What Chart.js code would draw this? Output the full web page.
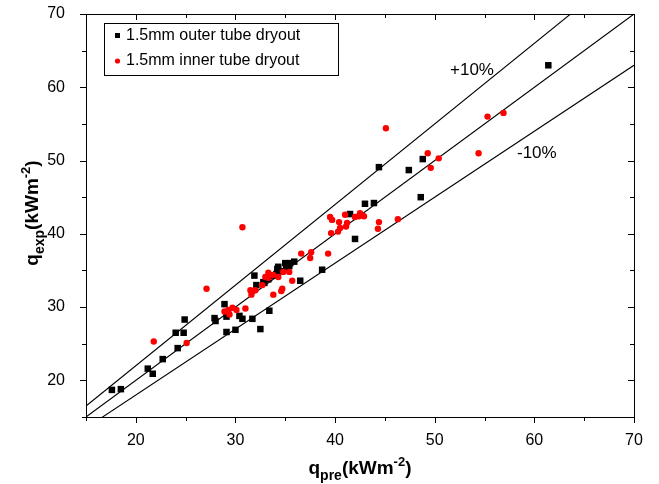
<!DOCTYPE html>
<html>
<head>
<meta charset="utf-8">
<script src="https://cdn.jsdelivr.net/npm/chart.js@4.4.0/dist/chart.umd.min.js"></script>
<style>
  html, body { margin: 0; padding: 0; background: #fff; }
  #wrap { width: 659px; height: 484px; }
</style>
</head>
<body>
<div id="wrap"><canvas id="chart" width="659" height="484"></canvas></div>
<script>
// 1.5mm outer tube dryout (black squares)
const outerX = [17.6, 18.5, 21.2, 21.7, 22.7, 24.2, 24.0, 24.8, 24.9, 27.9, 28.0, 28.9, 29.1, 29.1, 30.0,
                30.4, 30.7, 31.7, 32.5, 33.4, 31.9, 32.1, 32.9, 34.2, 34.3, 35.0, 35.5, 35.9, 32.8, 33.3,
                33.7, 34.1, 34.6, 35.1, 35.4, 36.5, 38.7, 42.0, 41.5, 43.0, 43.9, 44.4, 47.4, 48.8, 48.6, 61.4];
const outerY = [18.7, 18.8, 21.6, 20.9, 22.9, 24.4, 26.5, 26.5, 28.3, 28.5, 28.1, 30.4, 28.7, 26.6, 26.9,
                28.8, 28.4, 28.4, 27.0, 29.5, 34.3, 33.0, 33.3, 35.2, 35.5, 36.0, 36.0, 36.2, 33.4, 33.8,
                34.3, 34.5, 34.9, 35.3, 35.6, 33.6, 35.1, 39.3, 42.7, 44.1, 44.2, 49.1, 48.7, 50.2, 45.0, 63.0];

// 1.5mm inner tube dryout (red circles)
const innerX = [21.8, 25.1, 27.1, 30.7, 28.9, 29.3, 29.7, 30.1, 29.4, 31.0, 31.6, 32.0, 32.7, 33.8, 34.6,
                33.0, 33.3, 33.8, 34.3, 34.8, 35.4, 35.7, 31.5, 34.7, 33.3, 36.6, 37.6, 37.5, 39.3, 39.5,
                39.7, 39.6, 40.3, 40.4, 40.5, 41.0, 41.2, 41.1, 42.0, 42.5, 42.9, 42.4, 44.3, 44.4, 46.3,
                45.1, 49.3, 50.4, 49.6, 54.4, 55.3, 56.9];
const innerY = [25.3, 25.1, 32.5, 40.9, 29.4, 29.6, 29.9, 29.6, 29.0, 29.8, 31.7, 32.3, 33.0, 31.7, 32.2,
                34.1, 34.7, 34.4, 34.1, 34.8, 34.8, 33.6, 32.3, 32.5, 34.0, 37.3, 37.5, 36.7, 37.3, 42.3,
                41.9, 40.1, 40.3, 41.6, 40.8, 42.6, 41.5, 41.0, 42.3, 42.8, 42.4, 42.4, 40.7, 41.6, 42.0,
                54.4, 51.0, 50.3, 49.0, 51.0, 56.0, 56.5];

// reference lines q_exp = r * q_pre
const ratios = [1.1, 1.0, 0.9];
const lineX = [15, 70];

const axisMin = 15;
const axisMax = 70;
const tickLabels = [20, 30, 40, 50, 60, 70];

const seriesNames = ['1.5mm outer tube dryout', '1.5mm inner tube dryout'];
const bandLabels = ['+10%', '-10%'];

const FONT = '"Liberation Sans", Arial, sans-serif';

function toPoints(xs, ys) {
    return xs.map((x, i) => ({ x: x, y: ys[i] }));
}

const datasets = [
    {
        label: seriesNames[0],
        data: toPoints(outerX, outerY),
        pointStyle: 'rect',
        pointRadius: 4.6,
        backgroundColor: '#000',
        borderColor: '#000',
        borderWidth: 0,
        order: 1
    },
    {
        label: seriesNames[1],
        data: toPoints(innerX, innerY),
        pointStyle: 'circle',
        pointRadius: 3.2,
        backgroundColor: '#ff0000',
        borderColor: '#ff0000',
        borderWidth: 0,
        order: 0
    }
];

ratios.forEach(r => {
    datasets.push({
        label: 'ratio ' + r,
        data: lineX.map(x => ({ x: x, y: r * x })),
        showLine: true,
        pointRadius: 0,
        borderColor: '#000',
        borderWidth: 1.1,
        fill: false,
        order: 2
    });
});

// draws frame, tick marks, axis titles, legend box and band labels
const decor = {
    id: 'decor',
    afterDraw(chart) {
        const ctx = chart.ctx;
        const xs = chart.scales.x;
        const ys = chart.scales.y;
        const a = chart.chartArea;
        ctx.save();
        ctx.strokeStyle = '#000';
        ctx.lineWidth = 1;
        ctx.strokeRect(a.left + 0.5, a.top + 0.5, a.right - a.left, a.bottom - a.top);

        ctx.beginPath();
        for (let v = axisMin; v <= axisMax; v += 5) {
            const major = v % 10 === 0;
            const len = major ? 6 : 4;
            const px = Math.round(xs.getPixelForValue(v)) + 0.5;
            const py = Math.round(ys.getPixelForValue(v)) + 0.5;
            // bottom (outside) and top (inside)
            ctx.moveTo(px, a.bottom); ctx.lineTo(px, a.bottom + len);
            ctx.moveTo(px, a.top); ctx.lineTo(px, a.top + len);
            // left (outside) and right (inside)
            ctx.moveTo(a.left, py); ctx.lineTo(a.left - len, py);
            ctx.moveTo(a.right, py); ctx.lineTo(a.right - len, py);
        }
        ctx.stroke();

        // axis titles with sub / superscripts
        const xParts = [['q', 0, 19], ['pre', 6, 14], ['(kWm', 0, 19], ['-2', -8, 13], [')', 0, 19]];
        const yParts = [['q', 0, 19], ['exp', 6, 14], ['(kWm', 0, 19], ['-2', -8, 13], [')', 0, 19]];
        function rich(parts, cx, cy) {
            let w = 0;
            parts.forEach(p => { ctx.font = 'bold ' + p[2] + 'px ' + FONT; w += ctx.measureText(p[0]).width; });
            let x = cx - w / 2;
            ctx.textBaseline = 'alphabetic';
            ctx.textAlign = 'left';
            parts.forEach(p => {
                ctx.font = 'bold ' + p[2] + 'px ' + FONT;
                ctx.fillText(p[0], x, cy + p[1]);
                x += ctx.measureText(p[0]).width;
            });
        }
        ctx.fillStyle = '#000';
        rich(xParts, (a.left + a.right) / 2, 474);
        ctx.save();
        ctx.translate(38, 213);
        ctx.rotate(-Math.PI / 2);
        rich(yParts, 0, 0);
        ctx.restore();

        // legend
        ctx.strokeRect(104.5, 23.5, 234, 52);
        ctx.font = '16px ' + FONT;
        ctx.textBaseline = 'middle';
        ctx.textAlign = 'left';
        ctx.fillStyle = '#000';
        ctx.fillRect(115, 33, 5, 5);
        ctx.fillText(seriesNames[0], 126, 36);
        ctx.fillStyle = '#ff0000';
        ctx.beginPath();
        ctx.arc(117.5, 61, 2.6, 0, Math.PI * 2);
        ctx.fill();
        ctx.fillStyle = '#000';
        ctx.fillText(seriesNames[1], 126, 61);

        // band labels
        ctx.font = '17px ' + FONT;
        ctx.fillText(bandLabels[0], 450, 70);
        ctx.fillText(bandLabels[1], 517, 153);
        ctx.restore();
    }
};

new Chart(document.getElementById('chart').getContext('2d'), {
    type: 'scatter',
    data: { datasets: datasets },
    options: {
        responsive: false,
        animation: false,
        layout: { padding: { top: 14, right: 25, left: 0, bottom: 0 } },
        plugins: {
            legend: { display: false },
            tooltip: { enabled: false }
        },
        scales: {
            x: {
                type: 'linear',
                min: axisMin,
                max: axisMax,
                grid: { display: false },
                border: { display: false },
                afterFit(scale) { scale.height = 67; scale.paddingLeft = 0; scale.paddingRight = 0; },
                afterBuildTicks(scale) { scale.ticks = tickLabels.map(v => ({ value: v })); },
                ticks: {
                    color: '#000',
                    padding: 6,
                    maxRotation: 0,
                    font: { family: FONT, size: 16 }
                }
            },
            y: {
                type: 'linear',
                min: axisMin,
                max: axisMax,
                grid: { display: false },
                border: { display: false },
                afterFit(scale) { scale.width = 86; scale.paddingTop = 0; scale.paddingBottom = 0; },
                afterBuildTicks(scale) { scale.ticks = tickLabels.map(v => ({ value: v })); },
                ticks: {
                    color: '#000',
                    padding: 13,
                    font: { family: FONT, size: 16 }
                }
            }
        }
    },
    plugins: [decor]
});
</script>
</body>
</html>
